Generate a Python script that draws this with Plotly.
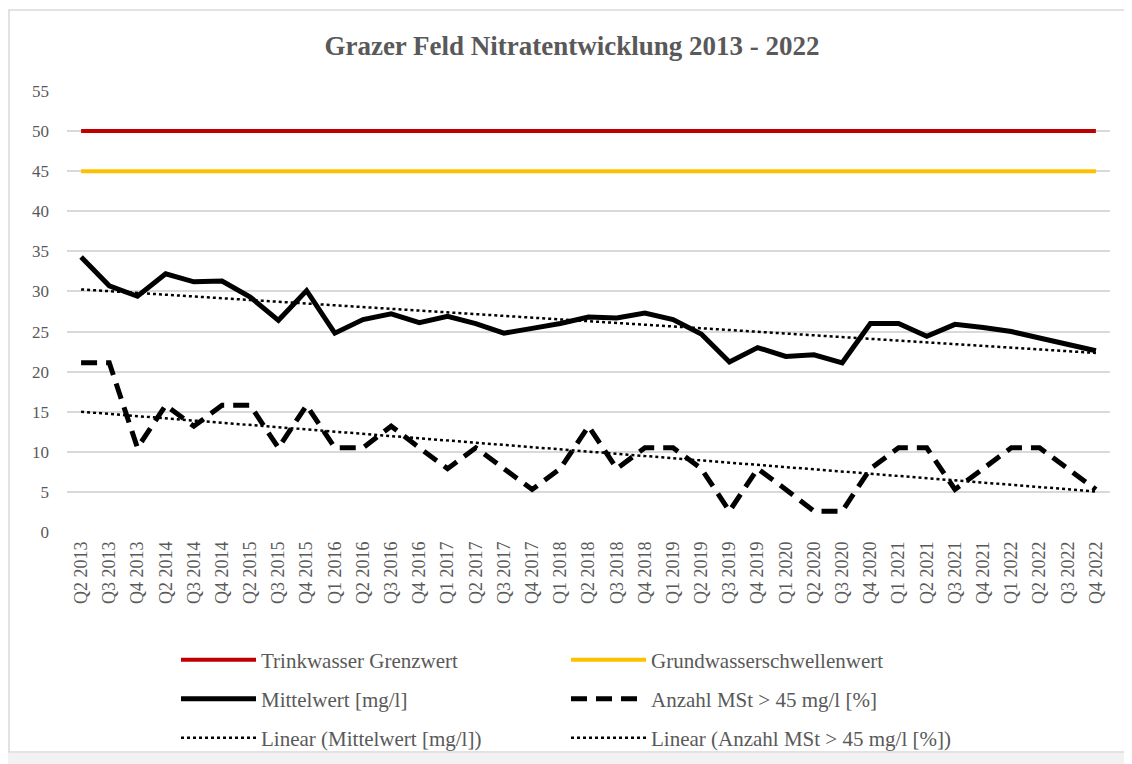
import numpy as np
import plotly.graph_objects as go

categories = ["Q2 2013", "Q3 2013", "Q4 2013", "Q2 2014", "Q3 2014", "Q4 2014",
              "Q2 2015", "Q3 2015", "Q4 2015", "Q1 2016", "Q2 2016", "Q3 2016",
              "Q4 2016", "Q1 2017", "Q2 2017", "Q3 2017", "Q4 2017", "Q1 2018",
              "Q2 2018", "Q3 2018", "Q4 2018", "Q1 2019", "Q2 2019", "Q3 2019",
              "Q4 2019", "Q1 2020", "Q2 2020", "Q3 2020", "Q4 2020", "Q1 2021",
              "Q2 2021", "Q3 2021", "Q4 2021", "Q1 2022", "Q2 2022", "Q3 2022",
              "Q4 2022"]

trinkwasser = [50] * len(categories)
grundwasser = [45] * len(categories)

mittelwert = [34.3, 30.7, 29.4, 32.2, 31.2, 31.3, 29.3, 26.4, 30.1, 24.8,
              26.5, 27.2, 26.1, 26.9, 26.0, 24.8, 25.4, 26.0, 26.8, 26.7,
              27.3, 26.5, 24.7, 21.2, 23.0, 21.9, 22.1, 21.1, 26.0, 26.0,
              24.4, 25.9, 25.5, 25.0, 24.2, 23.4, 22.6]

anzahl = [21.1, 21.1, 10.5, 15.8, 13.2, 15.8, 15.8, 10.5, 15.8, 10.5,
          10.5, 13.2, 10.5, 7.9, 10.5, 7.9, 5.3, 7.9, 13.2, 7.9,
          10.5, 10.5, 7.9, 2.6, 7.9, 5.3, 2.6, 2.6, 7.9, 10.5,
          10.5, 5.3, 7.9, 10.5, 10.5, 7.9, 5.3]

y_ticks = [0, 5, 10, 15, 20, 25, 30, 35, 40, 45, 50, 55]

# linear trend lines (as Excel "Linear" trendlines), fitted to the data
idx = np.arange(1, len(categories) + 1)
pm = np.polyfit(idx, mittelwert, 1)
pa = np.polyfit(idx, anzahl, 1)
trend_m = np.polyval(pm, idx)
trend_a = np.polyval(pa, idx)

xs = list(range(len(categories)))
serif = "Liberation Serif, Times New Roman, serif"
gray = "#595959"

fig = go.Figure()
fig.add_trace(go.Scatter(x=xs, y=trinkwasser, mode="lines", name="Trinkwasser Grenzwert",
                         line=dict(color="#C00000", width=4), legend="legend"))
fig.add_trace(go.Scatter(x=xs, y=grundwasser, mode="lines", name="Grundwasserschwellenwert",
                         line=dict(color="#FFC000", width=4), legend="legend2"))
fig.add_trace(go.Scatter(x=xs, y=mittelwert, mode="lines", name="Mittelwert [mg/l]",
                         line=dict(color="#000000", width=5), legend="legend3"))
fig.add_trace(go.Scatter(x=xs, y=anzahl, mode="lines", name="Anzahl MSt > 45 mg/l [%]",
                         line=dict(color="#000000", width=5, dash="16px,9px"), legend="legend4"))
fig.add_trace(go.Scatter(x=xs, y=trend_m, mode="lines", name="Linear (Mittelwert [mg/l])",
                         line=dict(color="#000000", width=2.5, dash="dot"), legend="legend5"))
fig.add_trace(go.Scatter(x=xs, y=trend_a, mode="lines", name="Linear (Anzahl MSt > 45 mg/l [%])",
                         line=dict(color="#000000", width=2.5, dash="dot"), legend="legend6"))

W, H = 1132, 764
OFF = 8  # page body margin: figure origin sits at (8, 8) in the screenshot
# plot area in screenshot pixels
SX0, SX1, SY0, SY1 = 67, 1110, 91, 532
ml, mr = SX0 - OFF, W - (SX1 - OFF)
mt, mb = SY0 - OFF, H - (SY1 - OFF)
pw, ph = W - ml - mr, H - mt - mb

def px_x(x):
    return (x - OFF - ml) / pw

def px_y(y):
    return (H - mb - (y - OFF)) / ph

leg_common = dict(orientation="h", xanchor="left", yanchor="middle",
                  font=dict(family=serif, size=21, color=gray),
                  itemwidth=75, bgcolor="rgba(0,0,0,0)", itemclick=False)

col_x = [176, 566]
row_y = [660, 699, 738]

fig.update_layout(
    width=W, height=H,
    margin=dict(l=ml, r=mr, t=mt, b=mb, autoexpand=False),
    paper_bgcolor="white", plot_bgcolor="white",
    title=dict(text="<b>Grazer Feld Nitratentwicklung 2013 - 2022</b>",
               font=dict(family=serif, size=27, color=gray),
               x=px_x(572), xanchor="center", xref="paper",
               y=1 - (46 - OFF) / H, yanchor="middle"),
    xaxis=dict(tickmode="array", tickvals=xs, ticktext=categories, range=[-0.5, len(categories) - 0.5],
               tickangle=-90, showgrid=False, zeroline=False, showline=False, ticks="",
               tickfont=dict(family=serif, size=18, color=gray), ticklabelstandoff=5),
    yaxis=dict(range=[0, 55], tickmode="array", tickvals=y_ticks, showgrid=True,
               gridcolor="#d9d9d9", gridwidth=1.5, zeroline=False, showline=False, ticks="",
               tickfont=dict(family=serif, size=17, color=gray), ticklabelstandoff=17),
    legend=dict(x=px_x(col_x[0]), y=px_y(row_y[0]), **leg_common),
    legend2=dict(x=px_x(col_x[1]), y=px_y(row_y[0]), **leg_common),
    legend3=dict(x=px_x(col_x[0]), y=px_y(row_y[1]), **leg_common),
    legend4=dict(x=px_x(col_x[1]), y=px_y(row_y[1]), **leg_common),
    legend5=dict(x=px_x(col_x[0]), y=px_y(row_y[2]), **leg_common),
    legend6=dict(x=px_x(col_x[1]), y=px_y(row_y[2]), **leg_common),
    showlegend=True,
)

# chart frame and bottom band
fig.add_shape(type="rect", xref="paper", yref="paper",
              x0=px_x(9), x1=px_x(1400), y0=px_y(752), y1=px_y(10),
              line=dict(color="#d9d9d9", width=1.5), fillcolor="rgba(0,0,0,0)", layer="below")
fig.add_shape(type="rect", xref="paper", yref="paper",
              x0=px_x(-20), x1=px_x(W + 20), y0=px_y(H + 20), y1=px_y(753),
              line=dict(width=0), fillcolor="#f2f2f2", layer="below")

fig.write_html("out.html")
